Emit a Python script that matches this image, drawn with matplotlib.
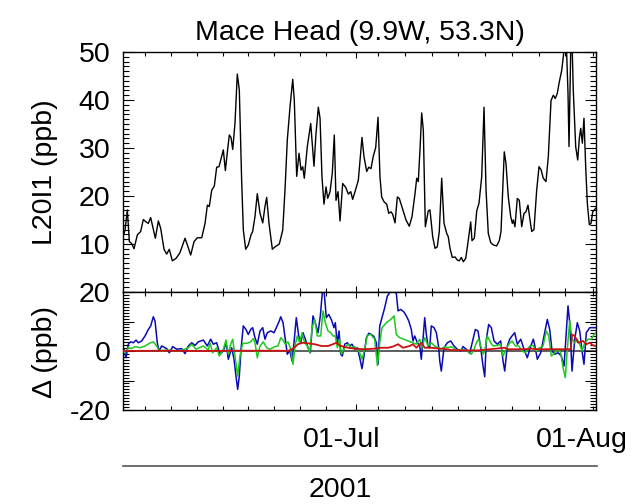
import numpy as np
import matplotlib
matplotlib.use("Agg")
import matplotlib.pyplot as plt
from matplotlib.lines import Line2D
from matplotlib.transforms import ScaledTranslation

plt.rcParams["font.family"] = ["Liberation Sans", "DejaVu Sans"]
plt.rcParams["axes.unicode_minus"] = False

# time axis: days since 01-Jun-2001
title = "Mace Head (9.9W, 53.3N)"
date_ticks = [30.0, 61.0]
date_labels = ["01-Jul", "01-Aug"]
minor_days = [2.84, 6.19, 9.54, 12.9, 16.12, 19.47, 22.83, 26.18, 32.89,
              36.37, 39.85, 43.2, 46.69, 50.17, 53.65, 57.0, 60.62]

# L20I1 mixing ratio (ppb)
top_day = [0, 0.26, 0.56, 0.82, 1.12, 1.42, 1.85, 2.28, 2.62, 2.97, 3.26, 3.57,
           3.83, 4.17, 4.56, 4.86, 5.29, 5.63, 5.97, 6.36, 6.84, 7.35, 8.0, 8.3,
           8.73, 9.16, 9.59, 10.15, 10.58, 10.88, 11.13, 11.44, 11.78, 12.08,
           12.38, 12.73, 12.94, 13.2, 13.46, 13.71, 13.93, 14.15, 14.44, 14.74,
           15.0, 15.3, 15.52, 15.82, 16.16, 16.51, 16.72, 17.02, 17.32, 17.67,
           18.02, 18.31, 18.53, 18.83, 19.26, 19.6, 20.16, 20.6, 20.89, 21.19,
           21.54, 21.89, 22.09, 22.4, 22.7, 22.96, 23.18, 23.38, 23.77, 24.21,
           24.63, 24.89, 25.19, 25.41, 25.66, 25.92, 26.18, 26.4, 26.7, 26.99,
           27.25, 27.47, 27.73, 27.99, 28.33, 28.72, 29.06, 29.37, 29.62, 29.92,
           30.35, 30.57, 30.82, 31.08, 31.43, 31.69, 31.98, 32.28, 32.59, 32.89,
           33.14, 33.36, 33.66, 34.01, 34.27, 34.56, 34.78, 35.08, 35.38, 35.63,
           36.07, 36.5, 36.92, 37.27, 37.66, 37.88, 38.08, 38.3, 38.52, 38.73,
           38.99, 39.37, 39.59, 39.94, 40.24, 40.53, 40.79, 41.1, 41.4, 41.75,
           41.95, 42.17, 42.47, 42.82, 43.11, 43.37, 43.63, 43.89, 44.2, 44.53,
           44.84, 45.01, 45.31, 45.62, 45.91, 46.26, 46.56, 46.82, 47.11, 47.42,
           47.76, 48.19, 48.53, 48.75, 48.97, 49.17, 49.39, 49.69, 50.0, 50.21,
           50.34, 50.55, 50.85, 51.11, 51.42, 51.72, 51.97, 52.23, 52.49, 52.71,
           53.0, 53.35, 53.65, 53.91, 54.2, 54.55, 54.85, 55.2, 55.5, 55.75,
           56.01, 56.27, 56.58, 56.87, 57.13, 57.39, 57.52, 57.74, 57.91, 58.07,
           58.38, 58.64, 58.85, 59.03, 59.24, 59.45, 59.67, 59.88, 60.14, 60.36,
           60.58, 61.0]
top_val = [11.5, 12.9, 17.1, 10.5, 10.1, 9.0, 11.9, 12.6, 15.1, 14.6, 14.3, 15.5,
           13.6, 11.2, 14.8, 13.25, 8.9, 7.9, 8.9, 6.5, 7.0, 8.2, 11.2, 9.8,
           7.7, 10.5, 11.3, 11.3, 14.3, 18.1, 17.8, 21.2, 22.1, 26.0,
           26.1, 28.3, 29.6, 25.3, 29.2, 32.7, 32.2, 29.7, 35.1, 45.4,
           42.1, 23.3, 12.9, 8.9, 9.8, 11.9, 12.6, 15.7, 20.5, 16.4,
           14.4, 17.8, 19.7, 14.3, 8.9, 9.4, 10.0, 12.9, 21.2, 31.7,
           38.6, 44.3, 40.0, 24.1, 28.9, 25.4, 26.1, 23.7, 30.3, 35.1,
           26.2, 33.0, 38.5, 36.2, 24.0, 18.3, 21.9, 19.5, 20.9, 24.7,
           32.7, 19.1, 20.9, 14.8, 22.6, 21.8, 20.4, 20.9, 19.3, 20.9,
           23.3, 27.5, 32.2, 28.2, 25.1, 26.0, 25.7, 28.3, 30.1, 36.4,
           24.0, 19.8, 18.8, 18.3, 16.4, 16.7, 16.2, 14.4, 19.8, 19.5,
           17.2, 15.0, 13.7, 15.7, 20.5, 23.7, 23.0, 29.6, 37.3, 33.7,
           13.6, 16.9, 17.1, 11.5, 9.1, 9.4, 12.6, 23.7, 14.3, 12.2,
           11.5, 9.1, 7.2, 7.3, 6.65, 6.5, 7.2, 6.3, 7.0, 10.8,
           14.6, 10.7, 11.2, 16.9, 18.5, 24.0, 38.5, 21.2, 12.2, 10.3,
           9.8, 9.6, 10.7, 12.6, 21.2, 29.2, 26.8, 19.8, 15.7, 14.3,
           15.0, 13.6, 19.5, 19.1, 13.6, 16.4, 16.7, 18.1, 15.0, 12.6,
           13.0, 21.2, 26.1, 25.5, 23.7, 23.0, 28.2, 39.9, 41.0, 40.3,
           41.4, 43.8, 46.2, 50.4, 54.0, 41.4, 30.3, 50.5, 52.0, 42.0,
           30.3, 27.5, 32.0, 34.1, 31.0, 36.2, 26.1, 18.5, 14.0, 14.3,
           16.7, 17.5]

# differences (ppb)
blue_day = [0, 0.09, 0.39, 0.68, 0.99, 1.33, 1.68, 1.97, 2.41, 2.84, 3.27, 3.57,
            3.91, 4.13, 4.42, 4.64, 4.99, 5.64, 5.97, 6.41, 6.93, 7.57, 8.0, 8.42,
            8.86, 9.29, 9.71, 10.36, 10.87, 11.31, 11.65, 12.08, 12.51, 12.94,
            13.29, 13.58, 14.02, 14.32, 14.57, 14.79, 15.0, 15.22, 15.51, 15.86,
            16.16, 16.47, 16.72, 17.02, 17.32, 17.67, 18.02, 18.31, 18.61, 19.05,
            19.48, 19.82, 20.16, 20.34, 20.64, 20.93, 21.19, 21.5, 21.8, 22.05,
            22.35, 22.66, 22.92, 23.21, 23.51, 23.86, 24.16, 24.5, 24.8, 25.15,
            25.45, 25.7, 25.92, 26.22, 26.53, 26.86, 27.21, 27.38, 27.64, 27.86,
            28.08, 28.28, 28.59, 28.93, 29.24, 29.53, 29.88, 30.22, 30.53, 30.82,
            31.08, 31.38, 31.69, 32.02, 32.37, 32.67, 32.89, 33.11, 33.4, 33.75,
            34.09, 34.4, 34.6, 34.95, 35.25, 35.47, 35.82, 36.24, 36.54, 36.85,
            37.18, 37.4, 37.62, 37.96, 38.27, 38.47, 38.69, 38.91, 39.12, 39.34,
            39.55, 39.76, 40.11, 40.41, 40.72, 40.85, 41.05, 41.4, 41.83, 42.26,
            42.69, 43.11, 43.55, 43.85, 44.28, 44.71, 45.14, 45.44, 45.78, 46.13,
            46.43, 46.65, 46.86, 47.16, 47.5, 47.85, 48.27, 48.71, 49.01, 49.23,
            49.56, 49.87, 50.17, 50.52, 50.85, 51.29, 51.72, 52.14, 52.58, 52.92,
            53.17, 53.43, 53.87, 54.3, 54.72, 55.03, 55.33, 55.68, 56.1, 56.53,
            56.88, 57.17, 57.39, 57.61, 57.91, 58.26, 58.59, 58.9, 59.2, 59.45,
            59.75, 60.19, 60.62, 61.0]
blue_val = [0, 0.6, -2.3, 2.3, 3.1, 2.8, 3.7, 2.8, 3.4, 5.1, 7.3, 8.5,
            11.6, 10.2, 2.8, 0, 1.7, 0.8, -0.6, 1.5, 0.6, 0.8, -0.9, 1.7,
            2.8, 1.9, 3.1, 3.7, 1.7, 4.0, 2.3, 2.8, -1.1, 0,
            2.8, -2.8, 1.1, -2.8, -8.5, -13.0, -8.5, 0.6, 8.5, 7.3,
            5.6, 7.3, 7.9, 4.5, 2.3, 6.8, 7.9, 4.0, 6.2, 6.8,
            6.2, 8.2, 10.2, 11.6, 9.6, 4.0, -1.1, 0.3, -3.4, 2.8,
            11.3, 5.1, 2.8, 6.2, 4.0, 1.1, -0.6, 11.9, 9.6, 6.2,
            11.9, 19.8, 20.5, 11.3, 12.4, 10.7, 7.9, 9.6, 2.3, 6.8,
            -1.1, -1.7, 2.3, 2.8, 1.7, 2.3, 0.6, 1.1, -2.3, -6.0,
            -1.7, 4.5, 6.0, 5.6, 4.9, 2.8, -4.5, 8.5, 11.3, 14.7,
            18.6, 19.8, 20.5, 20.5, 19.5, 13.6, 14.1, 13.2, 11.9, 10.2,
            7.3, 3.4, 5.1, 2.8, 1.9, -2.8, 4.0, 11.3, 5.6, 1.7,
            1.1, 8.5, 7.9, 6.2, 1.1, -3.4, -6.8, 1.1, 2.8, 3.4,
            1.7, 0.6, 0, 1.5, 0.6, -0.8, 4.0, 7.3, 6.8, 1.1,
            -5.1, -8.7, 4.0, 9.0, 7.9, 3.4, 2.3, 3.4, -3.4, -6.8,
            1.7, 4.0, 5.1, 6.2, 2.3, 4.0, 0.6, -2.3, 1.7, 4.0,
            1.1, -2.8, -0.6, 5.1, 10.7, 7.3, 0, -1.1, -0.6, -1.7,
            -5.1, 6.2, 15.3, 9.6, -6.8, 4.0, 9.6, 6.8, 0, -4.5,
            6.2, 7.9, 7.9, 7.9]

green_day = [0, 0.26, 0.69, 1.12, 1.55, 2.19, 2.84, 3.57, 3.91, 4.34, 4.69, 5.64,
             7.35, 8.42, 8.86, 9.41, 10.36, 11.0, 11.22, 11.57, 12.08, 12.42,
             12.94, 13.28, 13.58, 13.89, 14.15, 14.44, 14.79, 15.09, 15.44, 15.95,
             16.47, 16.81, 17.02, 17.32, 17.67, 18.09, 18.53, 18.96, 19.6, 20.0,
             20.34, 20.64, 20.93, 21.28, 21.63, 21.92, 22.22, 22.48, 22.79, 23.09,
             23.43, 23.77, 24.08, 24.38, 24.72, 25.06, 25.5, 25.79, 26.09, 26.44,
             26.79, 27.08, 27.38, 27.64, 27.95, 28.15, 28.59, 29.02, 29.44, 29.88,
             30.53, 30.82, 31.17, 31.51, 31.95, 32.46, 32.8, 33.11, 33.4, 33.96,
             34.53, 34.95, 35.25, 35.69, 36.24, 36.76, 37.4, 37.83, 38.27, 38.56,
             38.91, 39.34, 39.76, 40.2, 40.85, 41.05, 41.49, 41.92, 42.34, 42.99,
             43.85, 44.49, 44.92, 45.27, 45.57, 45.87, 46.13, 46.43, 46.65, 46.98,
             47.42, 47.72, 48.27, 48.71, 49.01, 49.43, 49.74, 50.17, 50.6, 51.03,
             51.46, 51.89, 52.45, 52.88, 53.3, 53.74, 54.17, 54.59, 54.9, 55.24,
             55.68, 56.1, 56.45, 56.75, 57.04, 57.3, 57.61, 57.91, 58.26, 58.59,
             58.9, 59.2, 59.55, 59.97, 60.4, 60.75, 61.0]
green_val = [0, -0.6, 1.1, 0.8, 1.5, 1.1, 1.7, 2.8, 3.1, 1.7, 0, 0.3,
             0, 1.1, 2.3, 0.6, 1.7, 0.3, 2.8, -0.6, 1.1, -1.7,
             0.6, 3.7, -1.1, 2.3, 4.0, -1.7, -8.5, -1.7, 2.6, 2.6,
             3.1, 4.2, 2.8, -2.3, 1.7, 3.1, 1.1, 0.6, 1.5, 1.7,
             4.5, 3.7, 2.3, 3.1, 0.6, -4.5, 2.3, 5.1, 2.8, 6.2,
             2.8, 1.7, -0.6, 7.9, 10.7, 5.1, 5.1, 13.6, 9.6, 6.8,
             6.2, 5.1, 5.1, 1.1, 4.0, -1.1, 1.1, 2.3, 1.1, 1.5,
             -0.6, -2.8, 0.6, 5.3, 5.6, 4.0, -4.9, 2.8, 7.9, 9.6,
             10.7, 11.9, 5.6, 4.5, 4.0, 3.4, 2.8, 2.3, 4.0, 1.1,
             4.5, 1.7, 2.8, 1.7, 0.8, 0.6, 1.5, 1.1, 1.5, 0.2,
             0.6, 0, -1.1, 0.6, 2.8, 4.0, 1.7, -1.1, 0, 5.1,
             2.8, 1.7, 1.9, 2.3, -1.7, 0.6, 2.3, 3.4, 1.7, 1.7,
             0, -0.6, 1.7, 1.9, 0, 1.1, 1.7, 6.8, 5.1, -1.7,
             -0.6, 0.6, -0.6, -5.6, -9.0, 0.6, 10.2, 4.0, 2.8, 4.0,
             2.3, 0, 2.8, 4.0, 4.0, 5.6, 6.2]

red_day = [0, 5.0, 10.0, 15.0, 20.0, 21.28, 21.92, 22.57, 23.21, 23.86, 24.72,
           25.58, 26.44, 27.08, 27.51, 27.95, 28.37, 29.02, 29.88, 31.17, 32.46,
           33.31, 34.18, 34.82, 35.47, 36.11, 36.97, 37.4, 37.83, 38.47, 38.91,
           39.76, 40.85, 41.27, 42.34, 44.07, 45.78, 49.23, 49.65, 51.81, 52.66,
           53.52, 55.24, 57.74, 57.91, 58.26, 58.68, 59.33, 59.75, 60.19, 60.62,
           61.0]
red_val = [0, 0.1, 0, 0.1, 0.1, 0, 0.8, 2.3, 2.8, 2.6, 2.3,
           1.7, 1.7, 2.3, 2.8, 1.9, 1.5, 1.1, 0.8, 0.6, 0.8,
           1.1, 1.1, 1.5, 2.3, 1.1, 1.7, 2.3, 1.1, 2.8, 1.1,
           1.1, 0.8, 0.8, 0.3, 0.2, 0.2, 1.1, 0.6, 0.6, 0.8,
           0.6, 0.6, 0.6, 5.6, 5.1, 2.8, 3.4, 2.3, 2.8, 1.9,
           1.7]

W, H = 633, 504
fig = plt.figure(figsize=(W / 100, H / 100), dpi=100)
ax1 = fig.add_axes([123 / W, 1 - 292 / H, 473 / W, 240 / H])
ax2 = fig.add_axes([123 / W, 1 - 410 / H, 473 / W, 118 / H])

FS = 20.5

ax1.plot(top_day, top_val, color="black", lw=1.0)
ax1.set_ylim(0, 50)
ax1.set_yticks([10, 20, 30, 40, 50])
ax1.set_yticks(np.arange(0, 51, 1), minor=True)
ax1.set_title(title, fontsize=FS, pad=9)

ax2.axhline(0, color="#505050", lw=1.3, zorder=1)
ax2.plot(blue_day, blue_val, color="#0a0ab4", lw=1.1, zorder=2)
ax2.plot(green_day, green_val, color="#1ec81e", lw=1.1, zorder=3)
ax2.plot(red_day, red_val, color="#cc1010", lw=1.3, zorder=4)
ax2.set_ylim(-20, 20)
ax2.set_yticks([-20, -10, 0, 10, 20])
ax2.set_yticklabels(["-20", "", "0", "", "20"])
ax2.set_yticks(np.arange(-20, 21, 1), minor=True)

for ax in (ax1, ax2):
    ax.set_xlim(0, 61)
    ax.set_xticks(date_ticks)
    ax.set_xticks(minor_days, minor=True)
    ax.tick_params(which="both", direction="in", top=True, right=True,
                   labelsize=FS, width=0.8, pad=9)
    ax.tick_params(axis="y", which="major", length=8)
    ax.tick_params(axis="y", which="minor", length=4.5)
    ax.tick_params(axis="x", which="major", length=4)
    ax.tick_params(axis="x", which="minor", length=3)
    for s in ax.spines.values():
        s.set_linewidth(1.0)

ax1.set_xticklabels([])
ax2.set_xticklabels(date_labels)
ax2.tick_params(axis="x", pad=12)
shift = ScaledTranslation(-14 / 100, 0, fig.dpi_scale_trans)
for lab in ax2.get_xticklabels():
    lab.set_transform(lab.get_transform() + shift)

fig.text(45 / W, 1 - 172 / H, "L20I1 (ppb)", rotation=90, ha="center",
         va="center", fontsize=FS)
fig.text(45 / W, 1 - 352 / H, "\u0394 (ppb)", rotation=90, ha="center",
         va="center", fontsize=FS)

fig.add_artist(Line2D([123 / W, 597 / W], [1 - 466 / H, 1 - 466 / H],
                      color="#555555", lw=1.2))
fig.text(340 / W, 1 - 490 / H, "2001", ha="center", va="center", fontsize=FS)

fig.savefig("out.png", dpi=100)
